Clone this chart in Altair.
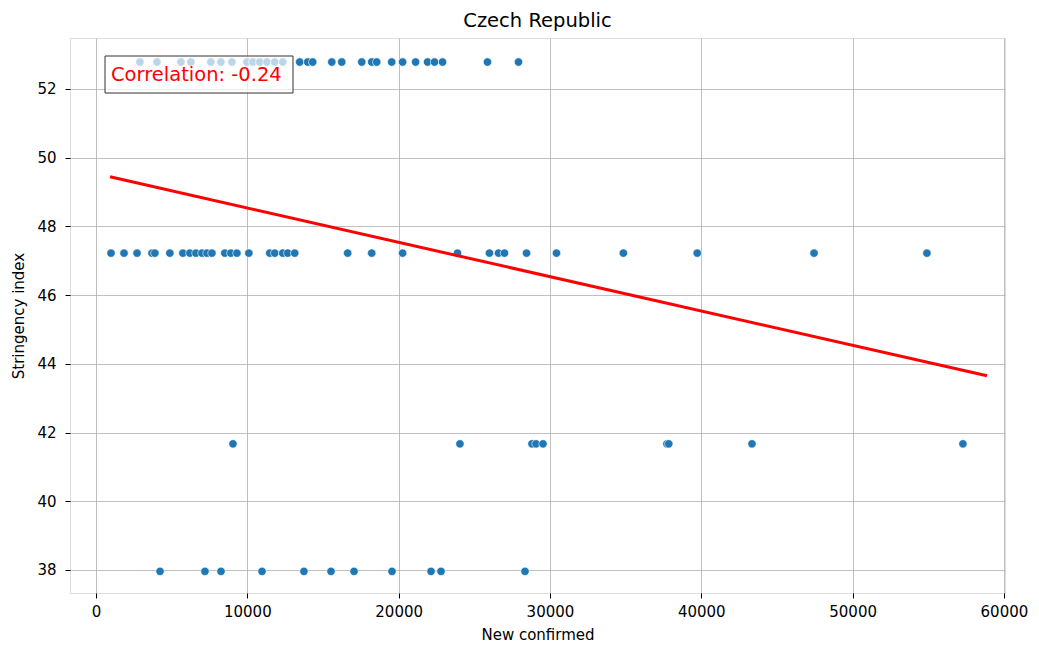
import altair as alt
import pandas as pd

# Stringency levels (y) and the new-confirmed values (x) read for each level
levels = [52.78, 47.22, 41.67, 37.96]

x_5278 = [2900, 4030, 5610, 6270, 7590, 8250, 8980, 9970, 10360, 10820, 11290,
          11810, 12340, 13460, 13990, 14320, 15580, 16240, 17560, 18220, 18550,
          19540, 20260, 21120, 21910, 22370, 22900, 25870, 27920]
x_4722 = [990, 1850, 2710, 3700, 3890, 4880, 5740, 6200, 6600, 7000, 7330, 7660,
          8510, 8910, 9310, 10100, 11480, 11810, 12340, 12670, 13130, 16630,
          18220, 20260, 23890, 26000, 26600, 26990, 28450, 30430, 34850, 39730,
          47450, 54910]
x_4167 = [9050, 24050, 28810, 29080, 29540, 37730, 37850, 43350, 57290]
x_3796 = [4230, 7200, 8260, 10970, 13740, 15530, 17050, 19560, 22140, 22800, 28350]

# Fitted line as drawn in the reference (end points)
fit_x = [925, 58880]
fit_y = [49.44, 43.65]

x_ticks = [0, 10000, 20000, 30000, 40000, 50000, 60000]
y_ticks = [38, 40, 42, 44, 46, 48, 50, 52]

title_text = "Czech Republic"
x_title = "New confirmed"
y_title = "Stringency index"
annotation = "Correlation: -0.24"

rows = []
for lvl, xs in zip(levels, [x_5278, x_4722, x_4167, x_3796]):
    for v in xs:
        rows.append({"new_confirmed": v, "stringency": lvl})
df = pd.DataFrame(rows)
fit_df = pd.DataFrame({"new_confirmed": fit_x, "stringency": fit_y})

FONT = "DejaVu Sans"
W, H = 935, 555

xscale = alt.Scale(domain=[-1720, 60070], nice=False, zero=False)
yscale = alt.Scale(domain=[37.33, 53.48], nice=False, zero=False)

xaxis = alt.Axis(values=x_ticks, format="d", title=x_title, grid=True,
                 gridColor="#b0b0b0", gridWidth=0.8, domain=False,
                 tickColor="black", tickSize=5, labelPadding=6,
                 labelFontSize=15, labelColor="black", labelFont=FONT,
                 titleFont=FONT, titleFontSize=15, titleFontWeight="normal",
                 titleColor="black", titlePadding=8)
yaxis = alt.Axis(values=y_ticks, format="d", title=y_title, grid=True,
                 gridColor="#b0b0b0", gridWidth=0.8, domain=False,
                 tickColor="black", tickSize=5, labelPadding=9,
                 labelFontSize=15, labelColor="black", labelFont=FONT,
                 titleFont=FONT, titleFontSize=15, titleFontWeight="normal",
                 titleColor="black", titlePadding=10)

points = alt.Chart(df).mark_point(filled=True, size=70, color="#1f77b4", opacity=1,
                                  stroke="white", strokeWidth=0.6).encode(
    x=alt.X("new_confirmed:Q", scale=xscale, axis=xaxis),
    y=alt.Y("stringency:Q", scale=yscale, axis=yaxis),
)

reg = alt.Chart(fit_df).mark_line(color="red", strokeWidth=3).encode(
    x=alt.X("new_confirmed:Q", scale=xscale),
    y=alt.Y("stringency:Q", scale=yscale),
)

box = alt.Chart(pd.DataFrame({"t": [annotation]})).mark_rect(
    fill="white", fillOpacity=0.7, stroke="#333333", strokeWidth=1).encode(
    x=alt.value(35), x2=alt.value(223), y=alt.value(18), y2=alt.value(55))

txt = alt.Chart(pd.DataFrame({"t": [annotation]})).mark_text(
    color="red", fontSize=19.5, font=FONT, align="left", baseline="middle").encode(
    x=alt.value(41), y=alt.value(36.5), text="t:N")

chart = alt.layer(points, reg, box, txt).properties(
    width=W, height=H,
    title=alt.Title(title_text, fontSize=19.5, font=FONT, fontWeight="normal",
                    color="black", anchor="middle", offset=7),
    autosize=alt.AutoSizeParams(type="none"),
    padding={"left": 62, "top": 30, "right": 26, "bottom": 55},
).configure_view(stroke="black", strokeWidth=1).configure(background="white")

chart.save("out.html", embed_options={"renderer": "svg", "actions": False})
